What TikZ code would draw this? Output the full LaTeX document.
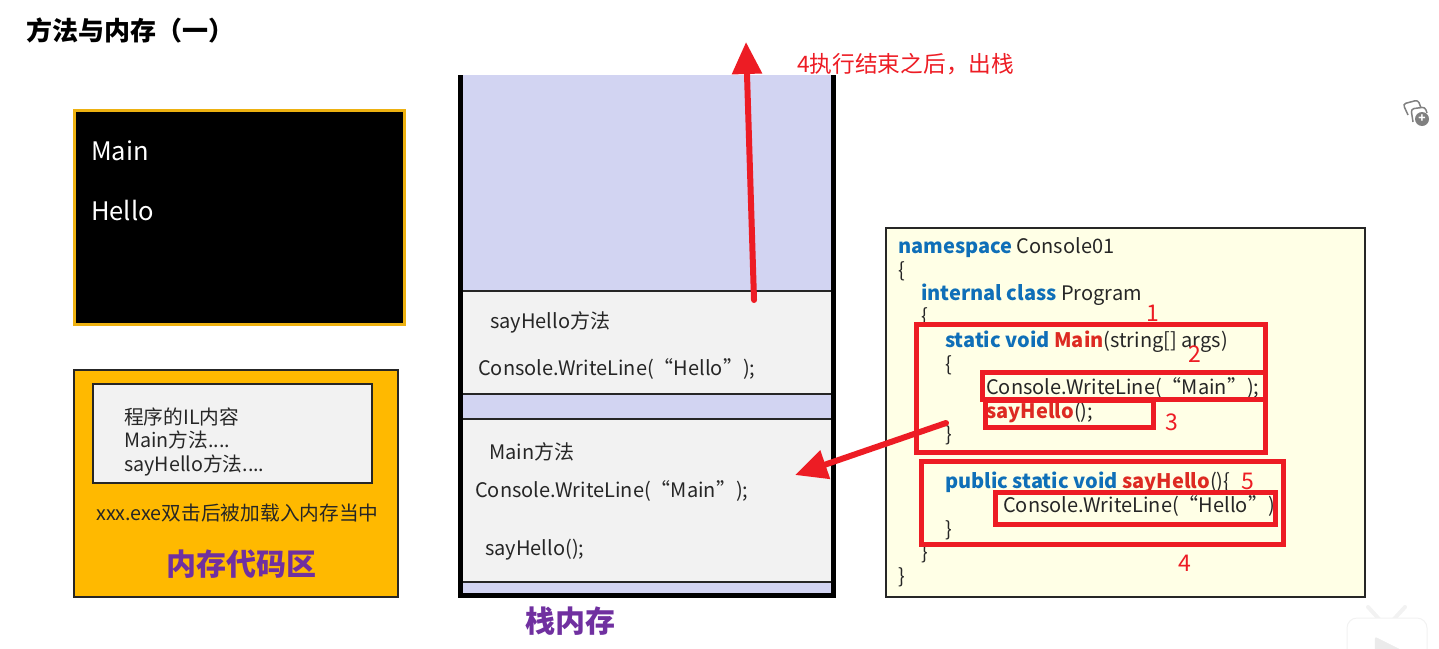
\documentclass[tikz,border=0pt]{standalone}
\usepackage{fontspec}
\setmainfont{Noto Sans CJK SC}
\usetikzlibrary{shapes,arrows.meta}
\definecolor{goldline}{HTML}{EDB111}
\definecolor{codearea}{HTML}{FFB900}
\definecolor{panel}{HTML}{F2F2F2}
\definecolor{lavender}{HTML}{D2D4F2}
\definecolor{cream}{HTML}{FFFFE6}
\definecolor{titlepurple}{HTML}{7030A0}
\definecolor{markred}{HTML}{ED1C24}
\definecolor{kwblue}{HTML}{0F6FB8}
\definecolor{kwred}{HTML}{DD2A22}
\newcommand{\kw}[1]{\textcolor{kwblue}{\bfseries #1}}
\newcommand{\kr}[1]{\textcolor{kwred}{\bfseries #1}}
\begin{document}
\begin{tikzpicture}[x=1pt,y=-1pt,
  box/.style = {shape=rectangle, draw=black!85, line width=2pt, anchor=north west, inner sep=0pt, outer sep=0pt},
  txt/.style = {anchor=base west, inner sep=0pt, text=black!85, font=\fontsize{20}{24}\selectfont},
  small/.style = {txt, font=\fontsize{19.7}{24}\selectfont},
  screentxt/.style = {txt, text=white, font=\fontsize{25.5}{30}\selectfont},
  big/.style = {anchor=base, inner sep=0pt, text=titlepurple, font=\fontsize{30}{34}\selectfont\bfseries},
  redbox/.style = {shape=rectangle, draw=markred, line width=5pt, anchor=north west, inner sep=0pt, outer sep=0pt},
  num/.style = {inner sep=0pt, text=markred, font=\fontsize{23}{26}\selectfont},
  redarrow/.style = {draw=markred, line cap=round, -{Triangle[length=32pt,width=29pt]}}]
  \useasboundingbox (0,0) rectangle (1439,648);
  \node[txt,font=\fontsize{26}{30}\selectfont\bfseries,text=black] (title) at (26,40) {方法与内存（一）};

  \node[box,draw=goldline,line width=3pt,fill=black,minimum width=330pt,minimum height=214pt] (screen) at (74,110) {};
  \node[screentxt] (screenMain) at (91,160) {Main};
  \node[screentxt] (screenHello) at (91,220) {Hello};

  \node[box,fill=codearea,minimum width=324pt,minimum height=227pt] (codeArea) at (74,370) {};
  \node[box,fill=panel,minimum width=279pt,minimum height=99pt] (ilBox) at (93,384) {};
  \node[small] (ilTitle) at (124,424) {程序的IL内容};
  \node[small] (ilMain) at (124,447) {Main方法....};
  \node[small] (ilHello) at (124,471) {sayHello方法....};
  \node[small] (loaded) at (96,520) {xxx.exe双击后被加载入内存当中};
  \node[big] (codeAreaName) at (241,575) {内存代码区};

  \node[box,draw=none,fill=lavender,minimum width=377pt,minimum height=522pt] (stack) at (458,75) {};
  \node[box,fill=panel,minimum width=372pt,minimum height=103pt] (helloFrame) at (460,291) {};
  \node[box,fill=panel,minimum width=372pt,minimum height=163pt] (mainFrame) at (460,419) {};
  \draw[line width=5pt,black] ([shift={(2,0)}]stack.north west) -- ([shift={(2,-2)}]stack.south west)
    -- ([shift={(-2,-2)}]stack.south east) -- ([shift={(-2,0)}]stack.north east);
  \node[txt] (helloName) at (490,328) {sayHello方法};
  \node[txt] (helloLine) at (478,375) {Console.WriteLine(“Hello”);};
  \node[txt] (mainName) at (489,459) {Main方法};
  \node[txt] (mainLine) at (475,497) {Console.WriteLine(“Main”);};
  \node[txt] (mainCall) at (485,555) {sayHello();};
  \node[big] (stackName) at (570.5,632) {栈内存};

  \node[box,fill=cream,minimum width=479pt,minimum height=369pt] (code) at (886,228) {};
  \node[txt] (c1) at (898,253) {\kw{namespace} Console01};
  \node[txt] (c2) at (898,277) {\{};
  \node[txt] (c3) at (921,300) {\kw{internal class} Program};
  \node[txt] (c4) at (921,323) {\{};
  \node[txt] (c5) at (945,347) {\kw{static void} \kr{Main}(string[] args)};
  \node[txt] (c6) at (945,371) {\{};
  \node[txt] (c7) at (986,394) {Console.WriteLine(“Main”);};
  \node[txt] (c8) at (986,418) {\kr{sayHello}();};
  \node[txt] (c9) at (945,441) {\}};
  \node[txt] (c10) at (945,488) {\kw{public static void} \kr{sayHello}()\{};
  \node[txt] (c11) at (1003,512) {Console.WriteLine(“Hello”)};
  \node[txt] (c12) at (945,536) {\}};
  \node[txt] (c13) at (921,559) {\}};
  \node[txt] (c14) at (898,583) {\}};

  \node[redbox,minimum width=349pt,minimum height=128pt] (markMain) at (916,324) {};
  \node[redbox,minimum width=283pt,minimum height=27pt] (markLine) at (982,372) {};
  \node[redbox,minimum width=168pt,minimum height=27pt] (markCall) at (985,400) {};
  \node[redbox,minimum width=362pt,minimum height=83pt] (markHello) at (921,461) {};
  \node[redbox,minimum width=280pt,minimum height=32pt] (markWrite) at (995,492) {};
  \node[num] (n1) at (1153,313) {1};
  \node[num] (n2) at (1195,354) {2};
  \node[num] (n3) at (1172,422) {3};
  \node[num] (n4) at (1185,563) {4};
  \node[num] (n5) at (1248,481) {5};

  \coordinate (popStart) at (754,300);
  \coordinate (popEnd) at (746,42);
  \coordinate (callStart) at (946,423);
  \coordinate (callEnd) at (795,475);
  \draw[redarrow,line width=6pt] (popStart) -- (popEnd);
  \draw[redarrow,line width=6pt] (callStart) -- (callEnd);
  \node[num,anchor=base west,font=\fontsize{22.7}{26}\selectfont] (popText) at (797,72) {4执行结束之后，出栈};

  \draw[gray,line width=1.5pt,rounded corners=3pt] (1408,115) -- (1403,104) -- (1418,100) -- (1421,108);
  \draw[gray,line width=1.5pt,rounded corners=3pt] (1413,122) -- (1411,109) -- (1425,107) -- (1427,113);
  \node[circle,fill=gray,text=white,inner sep=0pt,minimum size=14pt,font=\fontsize{12}{12}\selectfont\bfseries] (addIcon) at (1422,119) {+};
  \draw[black!5,line width=4pt,line cap=round] (1368,607) -- (1379,619);
  \draw[black!5,line width=4pt,line cap=round] (1405,607) -- (1394,619);
  \draw[black!5,fill=white,line width=1pt,rounded corners=10pt] (1347,660) -- (1347,618) -- (1427,618) -- (1427,660);
  \draw[black!8,fill=black!8,rounded corners=2pt] (1375,660) -- (1375,637) -- (1405,652) -- (1398,660);
\end{tikzpicture}
\end{document}
